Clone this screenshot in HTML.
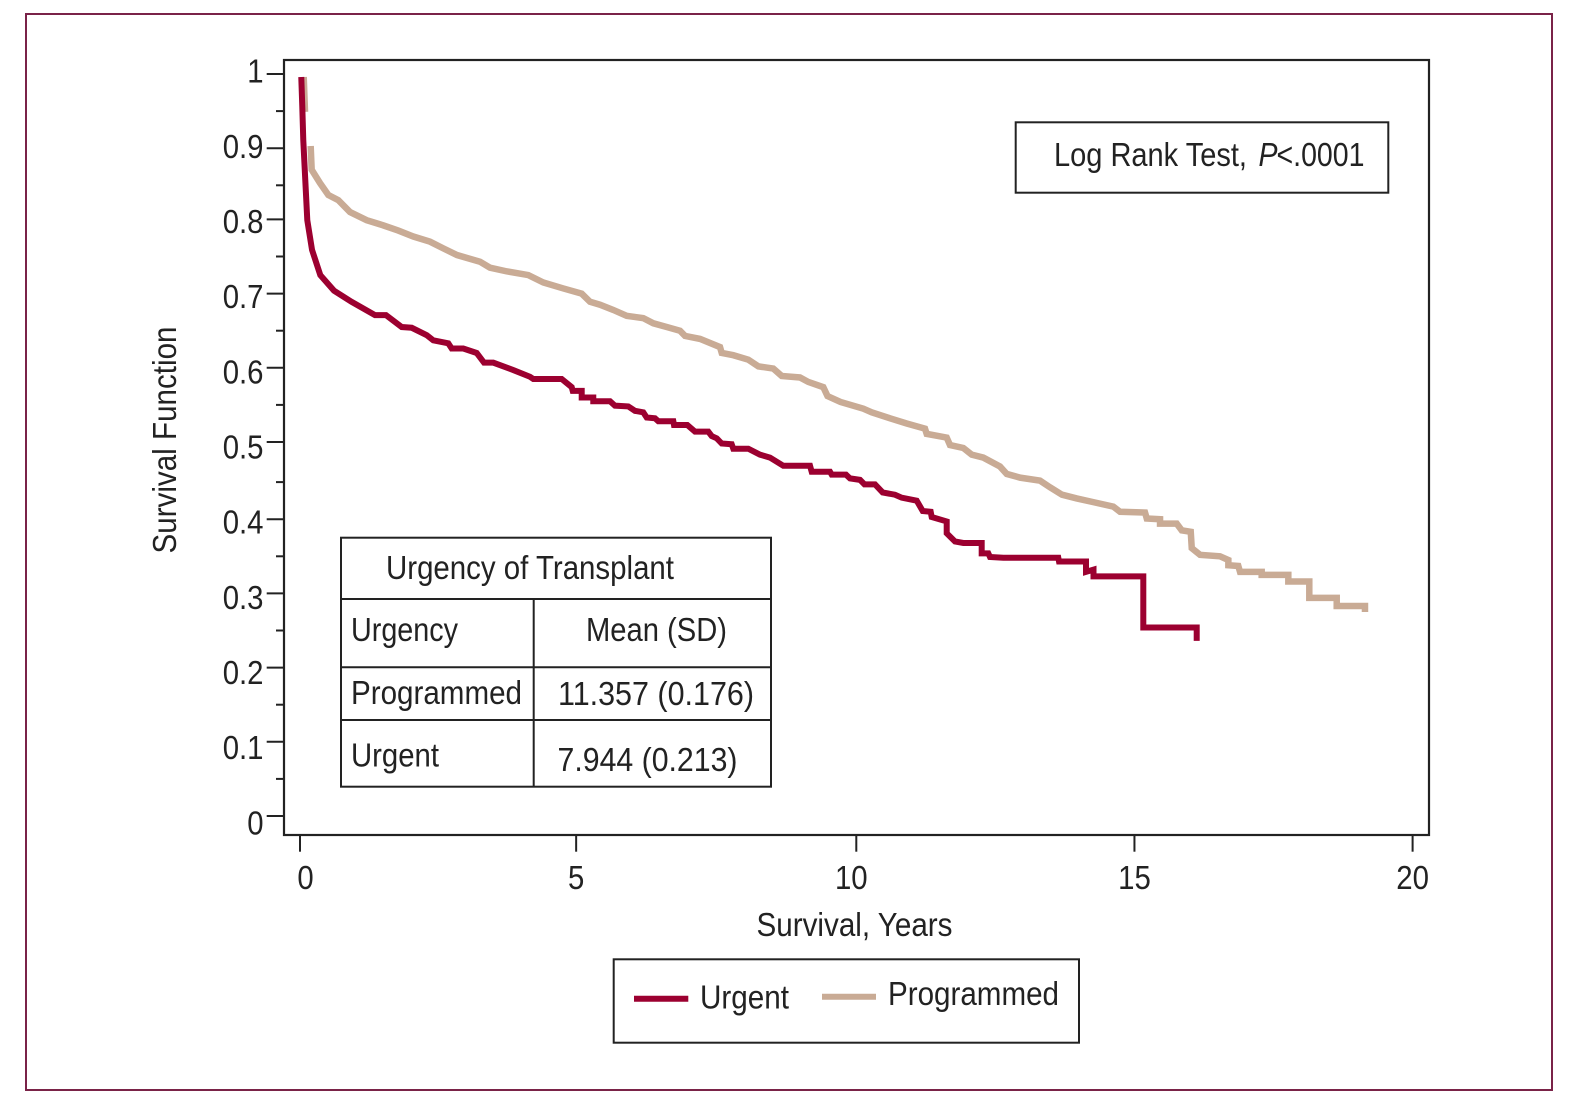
<!DOCTYPE html>
<html lang="en">
<head>
<meta charset="utf-8">
<title>Survival Function by Urgency of Transplant</title>
<style>
  html, body { margin: 0; padding: 0; background: #fff; }
  #chart { display: block; width: 1575px; height: 1120px; }
  text { font-family: "Liberation Sans", Arial, sans-serif; font-size: 33px; fill: #222; }
</style>
</head>
<body>
<svg id="chart" xmlns="http://www.w3.org/2000/svg" width="1575" height="1120" viewBox="0 0 1575 1120">
  <rect x="0" y="0" width="1575" height="1120" fill="#fff"/>
  <rect x="26" y="14" width="1526" height="1076" fill="none" stroke="#7a2348" stroke-width="2"/>
  <rect x="284" y="60" width="1145" height="775" fill="none" stroke="#222" stroke-width="2.2"/>
  <g id="ticks"></g>
  <g id="series"></g>

  <text transform="translate(176,553.5) rotate(-90)" textLength="227" lengthAdjust="spacingAndGlyphs">Survival Function</text>
  <text x="756.5" y="936" textLength="196" lengthAdjust="spacingAndGlyphs">Survival, Years</text>

  <g>
    <rect x="1015.7" y="122.3" width="372.6" height="70.4" fill="none" stroke="#222" stroke-width="2"/>
    <text x="1054" y="166" textLength="193" lengthAdjust="spacingAndGlyphs">Log Rank Test,</text>
    <text x="1258.5" y="166" font-style="italic" textLength="19" lengthAdjust="spacingAndGlyphs">P</text>
    <text x="1276.5" y="166" textLength="88" lengthAdjust="spacingAndGlyphs">&lt;.0001</text>
  </g>

  <g stroke="#222" stroke-width="2">
    <rect x="341" y="537.7" width="430" height="249" fill="none"/>
    <line x1="341" x2="771" y1="599" y2="599"/>
    <line x1="341" x2="771" y1="667.3" y2="667.3"/>
    <line x1="341" x2="771" y1="720" y2="720"/>
    <line x1="533.7" x2="533.7" y1="599" y2="786.7"/>
  </g>
  <text x="386" y="579" textLength="288" lengthAdjust="spacingAndGlyphs">Urgency of Transplant</text>
  <text x="351" y="641" textLength="107" lengthAdjust="spacingAndGlyphs">Urgency</text>
  <text x="586" y="641" textLength="141" lengthAdjust="spacingAndGlyphs">Mean (SD)</text>
  <text x="351" y="704" textLength="171" lengthAdjust="spacingAndGlyphs">Programmed</text>
  <text x="558" y="705" textLength="196" lengthAdjust="spacingAndGlyphs">11.357 (0.176)</text>
  <text x="351" y="766.7" textLength="88" lengthAdjust="spacingAndGlyphs">Urgent</text>
  <text x="557.5" y="771" textLength="180" lengthAdjust="spacingAndGlyphs">7.944 (0.213)</text>

  <g>
    <rect x="613.7" y="959.3" width="465.3" height="83.4" fill="none" stroke="#222" stroke-width="2"/>
    <line x1="634" x2="688.3" y1="998.7" y2="998.7" stroke="#9c0030" stroke-width="6"/>
    <text x="700" y="1008.3" textLength="89" lengthAdjust="spacingAndGlyphs">Urgent</text>
    <line x1="822" x2="876" y1="996.7" y2="996.7" stroke="#c9ab95" stroke-width="6"/>
    <text x="888" y="1005" textLength="171" lengthAdjust="spacingAndGlyphs">Programmed</text>
  </g>
</svg>

<script>
const xTickValues = [0, 5, 10, 15, 20];
const yMajorValues = [0, 0.1, 0.2, 0.3, 0.4, 0.5, 0.6, 0.7, 0.8, 0.9, 1];
const yMinorValues = [0.05, 0.15, 0.25, 0.35, 0.45, 0.55, 0.65, 0.75, 0.85, 0.95];
const yTickLabels = ["0", "0.1", "0.2", "0.3", "0.4", "0.5", "0.6", "0.7", "0.8", "0.9", "1"];

const urgentYears = [0.023,0.041,0.059,0.095,0.131,0.216,0.365,0.611,0.926,1.348,1.546,1.828,2.008,2.278,2.396,2.666,2.727,2.935,3.176,3.308,3.475,3.834,4.134,4.194,4.704,4.884,4.902,5.064,5.064,5.272,5.272,5.573,5.662,5.901,6.022,6.171,6.232,6.381,6.441,6.711,6.723,6.962,7.101,7.340,7.401,7.491,7.581,7.760,7.789,8.059,8.269,8.449,8.688,9.168,9.198,9.527,9.558,9.815,9.887,10.067,10.147,10.336,10.474,10.696,10.816,11.086,11.194,11.337,11.355,11.625,11.625,11.774,11.924,12.254,12.254,12.373,12.403,12.643,13.631,13.644,14.129,14.129,14.264,14.264,15.159,15.159,16.119,16.119];
const urgentSurvival = [0.996,0.956,0.911,0.857,0.803,0.763,0.729,0.708,0.693,0.675,0.675,0.659,0.658,0.648,0.641,0.637,0.630,0.630,0.624,0.611,0.611,0.601,0.592,0.589,0.589,0.578,0.573,0.573,0.564,0.564,0.559,0.559,0.553,0.552,0.546,0.544,0.537,0.536,0.532,0.532,0.527,0.527,0.518,0.518,0.512,0.509,0.502,0.501,0.495,0.495,0.487,0.483,0.472,0.472,0.464,0.464,0.460,0.460,0.455,0.453,0.447,0.447,0.436,0.433,0.429,0.425,0.411,0.410,0.403,0.397,0.381,0.370,0.368,0.368,0.354,0.354,0.349,0.348,0.348,0.343,0.343,0.329,0.332,0.323,0.323,0.254,0.254,0.236];

const programmedYears = [0.067,0.090,null,0.192,0.210,0.360,0.509,0.688,0.899,1.199,1.497,1.767,2.037,2.337,2.576,2.822,3.236,3.415,3.716,4.104,4.374,4.733,5.064,5.213,5.393,5.632,5.873,6.171,6.351,6.592,6.831,6.921,7.191,7.550,7.581,7.789,8.059,8.239,8.508,8.659,8.988,9.137,9.407,9.482,9.716,10.126,10.277,10.606,10.906,11.235,11.265,11.625,11.684,11.924,12.075,12.283,12.583,12.704,12.943,13.302,13.482,13.698,13.962,14.260,14.620,14.741,15.190,15.221,15.460,15.460,15.760,15.850,16.012,16.030,16.179,16.538,16.688,16.688,16.867,16.898,17.287,17.287,17.766,17.766,18.143,18.143,18.636,18.636,19.144,19.144];
const programmedSurvival = [0.996,0.949,null,0.903,0.871,0.853,0.837,0.830,0.814,0.803,0.796,0.789,0.781,0.774,0.765,0.756,0.747,0.739,0.734,0.729,0.719,0.711,0.704,0.693,0.689,0.682,0.674,0.671,0.664,0.659,0.654,0.647,0.643,0.632,0.624,0.621,0.615,0.606,0.603,0.593,0.591,0.585,0.578,0.566,0.558,0.549,0.544,0.536,0.529,0.522,0.515,0.510,0.500,0.496,0.487,0.483,0.471,0.461,0.456,0.452,0.443,0.433,0.428,0.423,0.417,0.410,0.409,0.401,0.400,0.394,0.394,0.385,0.383,0.361,0.352,0.350,0.345,0.338,0.337,0.329,0.329,0.325,0.325,0.316,0.316,0.294,0.294,0.283,0.283,0.275];

const SVG_NS = "http://www.w3.org/2000/svg";
const xScale = function (years) { return 300 + 55.63 * years; };
const yScale = function (survival) { return 816 - 742 * survival; };
const yLabelBaseline = function (value) { return 834.3 - 751.6 * value; };
const xLabelNudge = function (value) {
  if (value === 0) return 5.5;
  if (value === 5) return -2;
  if (value === 10) return -5;
  return 0;
};
const xTickNudge = function (value) {
  return value === 5 ? -2 : 0;
};
const yTickNudge = function (value) {
  if (value > 0.45 && value < 0.85) return -3;
  return 0;
};
const labelWidth = function (label) {
  let units = 0;
  for (const ch of label) units += ch === "." ? 0.278 : 0.556;
  return units * 33 * 0.89;
};

const ticksGroup = document.getElementById("ticks");
const seriesGroup = document.getElementById("series");

function tickLine(x1, y1, x2, y2) {
  const line = document.createElementNS(SVG_NS, "line");
  line.setAttribute("x1", x1);
  line.setAttribute("y1", y1);
  line.setAttribute("x2", x2);
  line.setAttribute("y2", y2);
  line.setAttribute("stroke", "#222");
  line.setAttribute("stroke-width", "2");
  ticksGroup.appendChild(line);
  return line;
}

function tickText(label, x, y, anchor) {
  const text = document.createElementNS(SVG_NS, "text");
  text.setAttribute("x", x);
  text.setAttribute("y", y);
  text.setAttribute("text-anchor", anchor);
  text.setAttribute("textLength", labelWidth(label).toFixed(1));
  text.setAttribute("lengthAdjust", "spacingAndGlyphs");
  text.textContent = label;
  ticksGroup.appendChild(text);
  return text;
}

xTickValues.forEach(function (value) {
  const px = xScale(value) + xTickNudge(value);
  const tick = tickLine(px, 835, px, 851.7);
  
  
  const label = tickText(String(value), xScale(value) + xLabelNudge(value), 889, "middle");
  
  
});

yMajorValues.forEach(function (value, index) {
  const py = yScale(value) + yTickNudge(value);
  const tick = tickLine(266.7, py, 284, py);
  
  
  const label = tickText(yTickLabels[index], 263.5, yLabelBaseline(value), "end");
  
  
});

yMinorValues.forEach(function (value) {
  const py = yScale(value) + yTickNudge(value);
  const tick = tickLine(276, py, 284, py);
  
  
});

function curvePath(years, survival) {
  let d = "";
  let pen = "M";
  years.forEach(function (year, i) {
    if (year === null) {
      pen = "M";
      return;
    }
    d += pen + xScale(year).toFixed(2) + " " + yScale(survival[i]).toFixed(2) + " ";
    pen = "L";
  });
  return d.trim();
}

function curve(years, survival, color, width) {
  const path = document.createElementNS(SVG_NS, "path");
  path.setAttribute("d", curvePath(years, survival));
  path.setAttribute("fill", "none");
  path.setAttribute("stroke", color);
  path.setAttribute("stroke-width", width);
  path.setAttribute("stroke-linejoin", "miter");
  path.setAttribute("stroke-linecap", "butt");
  seriesGroup.appendChild(path);
  return path;
}

const programmedCurve = curve(programmedYears, programmedSurvival, "#c9ab95", "6.5");



const urgentCurve = curve(urgentYears, urgentSurvival, "#9c0030", "6");


</script>
</body>
</html>
